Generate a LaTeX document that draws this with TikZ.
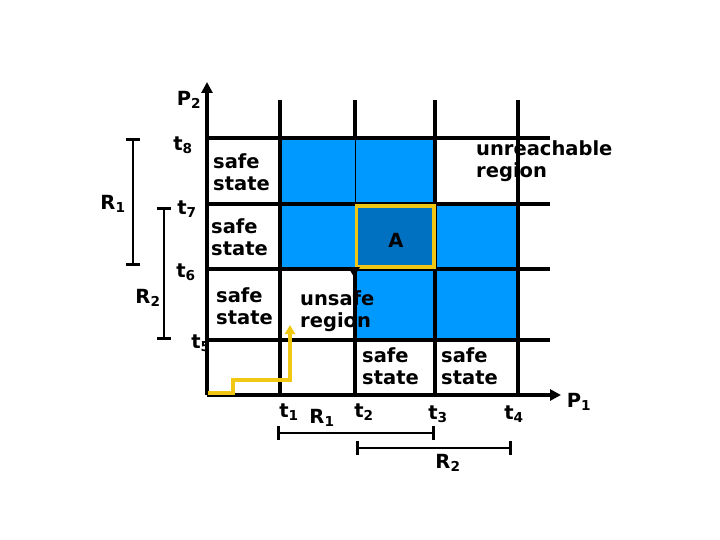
\documentclass[tikz,border=0pt]{standalone}
\usepackage{fontspec}
\setmainfont{DejaVu Sans}
\usepackage{xcolor}
\usepackage{tikz}
\usetikzlibrary{arrows.meta}

\definecolor{cellblue}{RGB}{0,153,255}
\definecolor{cellA}{RGB}{0,112,192}
\definecolor{pathyellow}{RGB}{240,200,20}

\begin{document}
\begin{tikzpicture}[x=1pt, y=-1pt,
    >={Triangle[length=11pt,width=11pt]},
    grid/.style={line width=4pt},
    thinline/.style={line width=0.8pt},
    lbl/.style={font=\fontsize{19.5}{22}\selectfont\bfseries, align=left, inner sep=0pt},
    txt/.style={lbl, anchor=west},
    brk/.style={line width=2.8pt, {Bar[width=14pt]}-{Bar[width=14pt]}},
    trace/.style={line width=3.5pt, draw=pathyellow, ->, >={Triangle[length=9pt,width=10pt]}},
]
\useasboundingbox (0,0) rectangle (720,540);

% --- Coordinates ---
\coordinate (O) at (207,395);
\coordinate (top) at (0,100);
\coordinate (right) at (550,0);
\coordinate (P2end) at (207,82);
\coordinate (P1end) at (561,395);
\foreach \x/\n in {280/1, 355/2, 435/3, 518/4}
  \coordinate (x\n) at (\x,395);
\foreach \y/\n in {340/5, 269/6, 204/7, 138/8}
  \coordinate (y\n) at (207,\y);

% --- Cells ---
\fill[cellblue] (x1 |- y8) rectangle (x3 |- y7);
\fill[cellblue] (x1 |- y7) rectangle (x4 |- y6);
\fill[cellblue] (x2 |- y6) rectangle (x4 |- y5);
\fill[cellA] (x2 |- y7) rectangle (x3 |- y6);

% --- Grid ---
\foreach \n in {5,...,8}
  \draw[grid] (y\n) -- (y\n -| right);
\foreach \n in {1,3,4}
  \draw[grid] (x\n) -- (x\n |- top);
\draw[grid] (x2 |- top) -- (x2 |- y8);
\draw[thinline] (x2 |- y8) -- (x2 |- y7);
\draw[grid] (x2 |- y6) -- (x2);

% --- Axes ---
\draw[grid,->] (O) -- (P2end);
\draw[grid,->] (O) -- (P1end);

% --- Region A ---
\draw[pathyellow, line width=3.5pt] (356.5,206) rectangle (434,267);
\fill (348,267) -- (360,267) -- (354,277) -- cycle;
\node[lbl] (A) at (396,240) {A};

% --- Path ---
\coordinate (s0) at (208,393);
\coordinate (s1) at (233,393);
\coordinate (s2) at (233,380);
\coordinate (s3) at (290,380);
\coordinate (s4) at (290,325);
\draw[trace] (s0) -- (s1) -- (s2) -- (s3) -- (s4);

% --- Cell texts ---
\node[txt] (safe8) at (213,172) {safe\\state};
\node[txt] (safe7) at (211,237) {safe\\state};
\node[txt] (safe6) at (216,306) {safe\\state};
\node[txt] (unsafe) at (300,311) {unsafe\\region};
\node[txt] (unreach) at (476,161) {unreachable\\region};
\node[txt] (safe2) at (362,366) {safe\\state};
\node[txt] (safe3) at (441,366) {safe\\state};

% --- Axis labels ---
\node[lbl] (lP2) at (189,100) {P\textsubscript{2}};
\node[lbl] (lP1) at (579,402) {P\textsubscript{1}};
\node[lbl] (lt8) at (183,145) {t\textsubscript{8}};
\node[lbl] (lt7) at (187,209) {t\textsubscript{7}};
\node[lbl] (lt6) at (186,272) {t\textsubscript{6}};
\node[lbl] (lt5) at (201,343) {t\textsubscript{5}};
\node[lbl] (lt1) at (289,412) {t\textsubscript{1}};
\node[lbl] (lt2) at (364,412) {t\textsubscript{2}};
\node[lbl] (lt3) at (438,414) {t\textsubscript{3}};
\node[lbl] (lt4) at (514,414) {t\textsubscript{4}};

% --- Ranges ---
\coordinate (r1a) at (133,138);
\coordinate (r1b) at (133,266);
\coordinate (r2a) at (164,207);
\coordinate (r2b) at (164,340);
\coordinate (h1a) at (277,433);
\coordinate (h1b) at (435,433);
\coordinate (h2a) at (356,448);
\coordinate (h2b) at (512,448);
\draw[brk] (r1a) -- (r1b);
\draw[brk] (r2a) -- (r2b);
\draw[brk] (h1a) -- (h1b);
\draw[brk] (h2a) -- (h2b);
\node[lbl] (lR1v) at (113,204) {R\textsubscript{1}};
\node[lbl] (lR2v) at (148,298) {R\textsubscript{2}};
\node[lbl] (lR1h) at (322,418) {R\textsubscript{1}};
\node[lbl] (lR2h) at (448,463) {R\textsubscript{2}};

\end{tikzpicture}
\end{document}
